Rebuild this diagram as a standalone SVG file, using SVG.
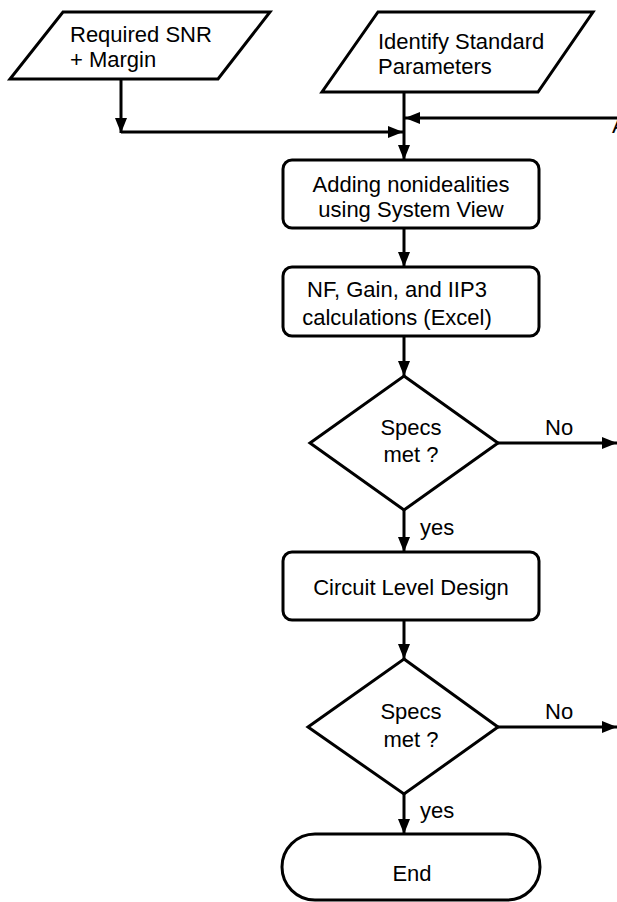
<svg xmlns="http://www.w3.org/2000/svg" width="617" height="902" viewBox="0 0 617 902">
  <style>
    .shape { fill: #ffffff; stroke: #000000; stroke-width: 3; stroke-linejoin: miter; }
    .wire { fill: none; stroke: #000000; stroke-width: 3; }
    text { font-family: "Liberation Sans", Arial, Helvetica, sans-serif; font-size: 22px; fill: #000000; }
    .c { text-anchor: middle; }
  </style>
  <defs>
    <marker id="arrow" viewBox="0 0 10 8" refX="10" refY="4" markerWidth="5" markerHeight="4" markerUnits="strokeWidth" orient="auto">
      <path d="M0,0 L10,4 L0,8 z" fill="#000000"/>
    </marker>
  </defs>
  <rect width="617" height="902" fill="#ffffff"/>

  <g id="connectors">
    <!-- SNR input down, then across to the main column -->
    <path class="wire" d="M121,79 V133" marker-end="url(#arrow)"/>
    <path class="wire" d="M121,132 H403" marker-end="url(#arrow)"/>
    <!-- feedback path entering from the right -->
    <path class="wire" d="M617,118 H405" marker-end="url(#arrow)"/>
    <!-- main column -->
    <path class="wire" d="M404,92 V160" marker-end="url(#arrow)"/>
    <path class="wire" d="M404,228 V267" marker-end="url(#arrow)"/>
    <path class="wire" d="M404,336 V376" marker-end="url(#arrow)"/>
    <path class="wire" d="M404,510 V552" marker-end="url(#arrow)"/>
    <path class="wire" d="M404,620 V659" marker-end="url(#arrow)"/>
    <path class="wire" d="M404,794 V834" marker-end="url(#arrow)"/>
    <!-- "No" exits -->
    <path class="wire" d="M498,443 H617" marker-end="url(#arrow)"/>
    <path class="wire" d="M498,727 H617" marker-end="url(#arrow)"/>
    <text x="545" y="435">No</text>
    <text x="420" y="535">yes</text>
    <text x="545" y="719">No</text>
    <text x="420" y="818">yes</text>
    <text x="612" y="133">A</text>
  </g>

  <g id="snr-input">
    <polygon class="shape" points="63,12 270,12 218,79 10,79"/>
    <text x="70" y="42">Required SNR</text>
    <text x="70" y="67">+ Margin</text>
  </g>

  <g id="standard-params">
    <polygon class="shape" points="378,12 593,12 538,92 322,92"/>
    <text x="378" y="49">Identify Standard</text>
    <text x="378" y="74">Parameters</text>
  </g>

  <g id="nonidealities">
    <rect class="shape" x="283" y="160" width="256" height="68" rx="9" ry="9"/>
    <text class="c" x="411" y="192">Adding nonidealities</text>
    <text class="c" x="411" y="217">using System View</text>
  </g>

  <g id="calculations">
    <rect class="shape" x="283" y="267" width="256" height="69" rx="9" ry="9"/>
    <text class="c" x="397" y="297">NF, Gain, and IIP3</text>
    <text class="c" x="397" y="325">calculations (Excel)</text>
  </g>

  <g id="specs-check-1">
    <polygon class="shape" points="404,376 498,443 404,510 310,443"/>
    <text class="c" x="411" y="435">Specs</text>
    <text class="c" x="411" y="462">met ?</text>
  </g>

  <g id="circuit-design">
    <rect class="shape" x="283" y="552" width="256" height="68" rx="9" ry="9"/>
    <text class="c" x="411" y="595">Circuit Level Design</text>
  </g>

  <g id="specs-check-2">
    <polygon class="shape" points="404,659 498,727 404,794 308,727"/>
    <text class="c" x="411" y="719">Specs</text>
    <text class="c" x="411" y="747">met ?</text>
  </g>

  <g id="end">
    <rect class="shape" x="282" y="834" width="258" height="66" rx="33" ry="33"/>
    <text class="c" x="412" y="881">End</text>
  </g>
</svg>
